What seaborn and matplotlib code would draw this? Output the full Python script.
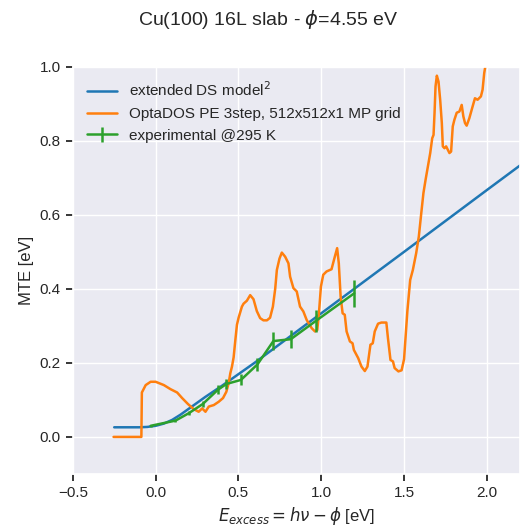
import matplotlib
matplotlib.use("Agg")
import matplotlib.pyplot as plt
import seaborn as sns
import pandas as pd

# ---- data ----
ds_x = [-0.25, -0.10, -0.05, 0.00, 0.05, 0.10, 0.15, 0.20, 0.30, 0.40, 0.60, 1.00, 1.50, 2.00, 2.25]
ds_y = [0.026, 0.026, 0.027, 0.030, 0.036, 0.046, 0.060, 0.076, 0.108, 0.138, 0.201, 0.334, 0.500, 0.667, 0.750]

pe_x = [-0.254, -0.086, -0.083, -0.06, -0.03, 0.0, 0.05, 0.09, 0.13, 0.16, 0.195, 0.23, 0.26, 0.281,
        0.301, 0.321, 0.351, 0.381, 0.407, 0.427, 0.441, 0.451, 0.461, 0.471, 0.481, 0.491, 0.501,
        0.521, 0.531, 0.551, 0.571, 0.591, 0.611, 0.631, 0.651, 0.672, 0.691, 0.708, 0.722, 0.732,
        0.748, 0.762, 0.782, 0.802, 0.812, 0.832, 0.852, 0.872, 0.892, 0.912, 0.942, 0.962, 0.976,
        0.986, 0.998, 1.012, 1.032, 1.062, 1.082, 1.096, 1.106, 1.117, 1.129, 1.142, 1.153, 1.173,
        1.189, 1.197, 1.223, 1.243, 1.263, 1.279, 1.297, 1.311, 1.323, 1.343, 1.363, 1.393, 1.403,
        1.418, 1.433, 1.443, 1.466, 1.485, 1.500, 1.520, 1.537, 1.553, 1.573, 1.589, 1.604, 1.617,
        1.630, 1.644, 1.658, 1.670, 1.678, 1.684, 1.690, 1.698, 1.708, 1.718, 1.728, 1.734, 1.744,
        1.754, 1.764, 1.774, 1.784, 1.794, 1.804, 1.818, 1.834, 1.848, 1.858, 1.868, 1.878, 1.894,
        1.914, 1.928, 1.944, 1.964, 1.974, 1.984, 1.994, 2.01]
pe_y = [0.0, 0.0, 0.12, 0.14, 0.149, 0.149, 0.14, 0.129, 0.12, 0.105, 0.089, 0.075, 0.068, 0.077,
        0.068, 0.082, 0.086, 0.095, 0.105, 0.122, 0.145, 0.172, 0.19, 0.215, 0.26, 0.303, 0.322,
        0.352, 0.360, 0.368, 0.383, 0.372, 0.340, 0.321, 0.315, 0.315, 0.322, 0.352, 0.400, 0.451,
        0.482, 0.498, 0.487, 0.469, 0.433, 0.402, 0.393, 0.352, 0.339, 0.316, 0.294, 0.285, 0.289,
        0.334, 0.406, 0.438, 0.447, 0.453, 0.487, 0.510, 0.469, 0.379, 0.334, 0.330, 0.285, 0.258,
        0.253, 0.235, 0.213, 0.190, 0.178, 0.190, 0.249, 0.253, 0.285, 0.306, 0.309, 0.309, 0.266,
        0.208, 0.204, 0.186, 0.177, 0.180, 0.210, 0.340, 0.424, 0.451, 0.496, 0.541, 0.605, 0.659,
        0.695, 0.731, 0.767, 0.807, 0.816, 0.875, 0.947, 0.976, 0.960, 0.911, 0.848, 0.785, 0.780,
        0.785, 0.776, 0.767, 0.771, 0.839, 0.857, 0.876, 0.879, 0.897, 0.866, 0.848, 0.841, 0.861,
        0.893, 0.915, 0.911, 0.920, 0.938, 0.983, 1.01, 1.06]

exp_x = [-0.03, 0.12, 0.20, 0.285, 0.375, 0.427, 0.515, 0.615, 0.711, 0.816, 0.966, 1.199]
exp_y = [0.030, 0.044, 0.064, 0.089, 0.127, 0.143, 0.154, 0.196, 0.259, 0.264, 0.313, 0.388]
exp_err = [0.002, 0.004, 0.006, 0.009, 0.012, 0.013, 0.015, 0.018, 0.025, 0.025, 0.029, 0.036]

x_ticks = [-0.5, 0.0, 0.5, 1.0, 1.5, 2.0]
y_ticks = [0.0, 0.2, 0.4, 0.6, 0.8, 1.0]

labels = ["extended DS model$^2$", "OptaDOS PE 3step, 512x512x1 MP grid", "experimental @295 K"]

# ---- style ----
sns.set_theme(style="darkgrid", context="notebook")
plt.rcParams["font.family"] = ["Liberation Sans", "DejaVu Sans"]
plt.rcParams["xtick.bottom"] = True
plt.rcParams["ytick.left"] = True
plt.rcParams["xtick.major.size"] = 5
plt.rcParams["ytick.major.size"] = 5
plt.rcParams["xtick.major.width"] = 1.3
plt.rcParams["ytick.major.width"] = 1.3

fig = plt.figure(figsize=(5.2, 5.26), dpi=100)
ax = fig.add_axes([0.140, 0.099, 0.860, 0.774])

df_ds = pd.DataFrame({"x": ds_x, "y": ds_y})
df_pe = pd.DataFrame({"x": pe_x, "y": pe_y})

sns.lineplot(data=df_ds, x="x", y="y", ax=ax, color="#1f77b4", lw=1.8,
             sort=False, estimator=None, label=labels[0])
sns.lineplot(data=df_pe, x="x", y="y", ax=ax, color="#ff7f0e", lw=1.8,
             sort=False, estimator=None, label=labels[1])
ax.errorbar(exp_x, exp_y, yerr=exp_err, color="#2ca02c", lw=1.8, elinewidth=1.8,
            capsize=0, label=labels[2], zorder=5)

ax.set_xlim(-0.5, 2.2)
ax.set_ylim(-0.1, 1.0)
ax.set_xticks(x_ticks)
ax.set_yticks(y_ticks)
ax.set_xlabel(r"$E_{excess} = h\nu - \phi$ [eV]", fontsize=12)
ax.set_ylabel("MTE [eV]", fontsize=12)

ax.legend(loc="upper left", frameon=False, fontsize=11, handlelength=2.0)
fig.suptitle(r"Cu(100) 16L slab - $\phi$=4.55 eV", fontsize=14, x=0.515, y=0.985, va="top")

fig.savefig("out.png", dpi=100)
